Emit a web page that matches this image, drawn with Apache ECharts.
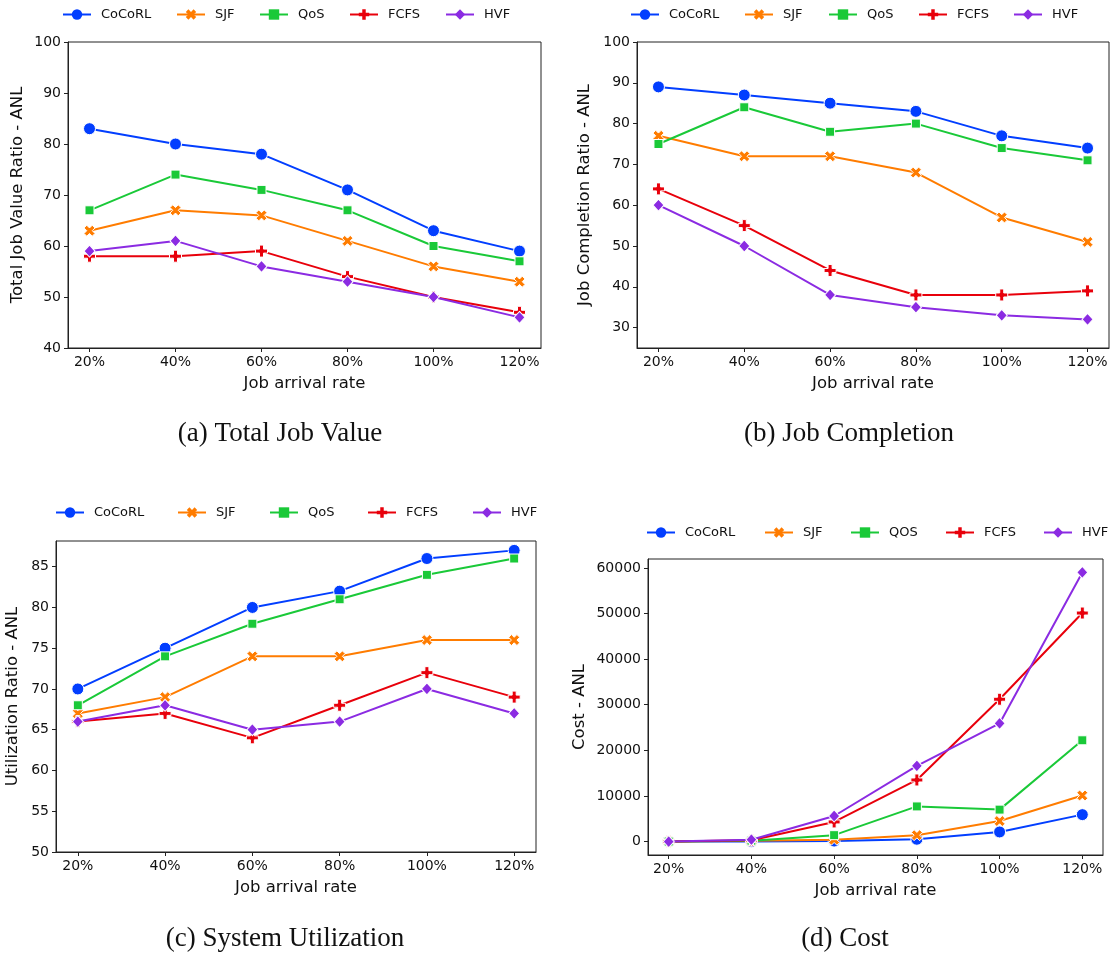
<!DOCTYPE html>
<html>
<head>
<meta charset="utf-8">
<title>ANL scheduling comparison</title>
<script src="https://cdn.jsdelivr.net/npm/echarts@6/dist/echarts.min.js"></script>
<style>
  html, body { margin: 0; padding: 0; background: #fff; }
  #chart { width: 1115px; height: 957px; }
</style>
</head>
<body>
<div id="chart"></div>
<script>
// Arrival-rate categories shared by all four panels
const arrivalRates = ['20%', '40%', '60%', '80%', '100%', '120%'];

// (a) Total job value ratio
const valueCoCoRL = [83, 80, 78, 71, 63, 59];
const valueSJF    = [63, 67, 66, 61, 56, 53];
const valueQoS    = [67, 74, 71, 67, 60, 57];
const valueFCFS   = [58, 58, 59, 54, 50, 47];
const valueHVF    = [59, 61, 56, 53, 50, 46];

// (b) Job completion ratio
const complCoCoRL = [89, 87, 85, 83, 77, 74];
const complSJF    = [77, 72, 72, 68, 57, 51];
const complQoS    = [75, 84, 78, 80, 74, 71];
const complFCFS   = [64, 55, 44, 38, 38, 39];
const complHVF    = [60, 50, 38, 35, 33, 32];

// (c) System utilization ratio
const utilCoCoRL = [70, 75, 80, 82, 86, 87];
const utilSJF    = [67, 69, 74, 74, 76, 76];
const utilQoS    = [68, 74, 78, 81, 84, 86];
const utilFCFS   = [66, 67, 64, 68, 72, 69];
const utilHVF    = [66, 68, 65, 66, 70, 67];

// (d) Cost
const costCoCoRL = [0, 0, 100, 500, 2100, 5900];
const costSJF    = [0, 200, 400, 1400, 4500, 10100];
const costQOS    = [0, 200, 1400, 7700, 7000, 22200];
const costFCFS   = [0, 300, 4300, 13500, 31200, 50100];
const costHVF    = [0, 400, 5600, 16600, 25900, 59000];

// Y tick labels per panel
const ticksValue = [40, 50, 60, 70, 80, 90, 100];
const ticksCompl = [30, 40, 50, 60, 70, 80, 90, 100];
const ticksUtil  = [50, 55, 60, 65, 70, 75, 80, 85];
const ticksCost  = [0, 10000, 20000, 30000, 40000, 50000, 60000];

const captions = ['(a) Total Job Value', '(b) Job Completion', '(c) System Utilization', '(d) Cost'];
const yTitles = ['Total Job Value Ratio - ANL', 'Job Completion Ratio - ANL', 'Utilization Ratio - ANL', 'Cost - ANL'];

// Marker shapes: filled X and filled plus
const X_PATH = 'path://M2,-4L4,-2L2,0L4,2L2,4L0,2L-2,4L-4,2L-2,0L-4,-2L-2,-4L0,-2Z';
const PLUS_PATH = 'path://M-1,-3H1V-1H3V1H1V3H-1V1H-3V-1H-1Z';

const methodStyle = {
  CoCoRL: { color: '#023eff', symbol: 'circle', size: 12 },
  SJF:    { color: '#ff7c00', symbol: X_PATH, size: 11 },
  QoS:    { color: '#1ac938', symbol: 'rect', size: 9 },
  QOS:    { color: '#1ac938', symbol: 'rect', size: 9 },
  FCFS:   { color: '#e8000b', symbol: PLUS_PATH, size: 12 },
  HVF:    { color: '#8b2be2', symbol: 'diamond', size: [11, 12] }
};

const panels = [
  { grid: { left: 68, top: 42, width: 473, height: 306 }, yMin: 40, yMax: 100, ticks: ticksValue, yGap: 42,
    series: [['CoCoRL', valueCoCoRL], ['SJF', valueSJF], ['QoS', valueQoS], ['FCFS', valueFCFS], ['HVF', valueHVF]],
    legendY: 15, legendX: [62, 176, 259, 349, 445], caption: [280, 434] },
  { grid: { left: 637, top: 42, width: 472, height: 306 }, yMin: 25, yMax: 100, ticks: ticksCompl, yGap: 44,
    series: [['CoCoRL', complCoCoRL], ['SJF', complSJF], ['QoS', complQoS], ['FCFS', complFCFS], ['HVF', complHVF]],
    legendY: 15, legendX: [630, 744, 828, 918, 1013], caption: [849, 434] },
  { grid: { left: 56, top: 541, width: 480, height: 311 }, yMin: 50, yMax: 88.15, ticks: ticksUtil, yGap: 35,
    series: [['CoCoRL', utilCoCoRL], ['SJF', utilSJF], ['QoS', utilQoS], ['FCFS', utilFCFS], ['HVF', utilHVF]],
    legendY: 513, legendX: [55, 177, 269, 367, 472], caption: [285, 939] },
  { grid: { left: 648, top: 559, width: 455, height: 296 }, yMin: -2950, yMax: 61950, ticks: ticksCost, yGap: 60,
    series: [['CoCoRL', costCoCoRL], ['SJF', costSJF], ['QOS', costQOS], ['FCFS', costFCFS], ['HVF', costHVF]],
    legendY: 533, legendX: [646, 764, 850, 945, 1043], caption: [845, 939] }
];

const FONT = 'DejaVu Sans';
const grids = [], xAxes = [], yAxes = [], series = [], legends = [], graphics = [];

panels.forEach((p, i) => {
  grids.push(Object.assign({ show: true, borderColor: '#222', borderWidth: 1, backgroundColor: 'transparent' }, p.grid));

  xAxes.push({
    type: 'value', gridIndex: i, min: -0.25, max: 5.25,
    name: 'Job arrival rate', nameLocation: 'middle', nameGap: 27,
    nameTextStyle: { fontFamily: FONT, fontSize: 16.5, color: '#111' },
    axisLine: { show: true, onZero: false, lineStyle: { color: '#222', width: 1 } },
    axisTick: { show: true, length: 4, lineStyle: { color: '#222' }, customValues: [0, 1, 2, 3, 4, 5] },
    axisLabel: { fontFamily: FONT, fontSize: 14, color: '#111', margin: 7,
      customValues: [0, 1, 2, 3, 4, 5], formatter: v => arrivalRates[Math.round(v)] },
    splitLine: { show: false }
  });

  yAxes.push({
    type: 'value', gridIndex: i, min: p.yMin, max: p.yMax,
    name: yTitles[i], nameLocation: 'middle', nameGap: p.yGap,
    nameTextStyle: { fontFamily: FONT, fontSize: 16.5, color: '#111' },
    axisLine: { show: true, onZero: false, lineStyle: { color: '#222', width: 1 } },
    axisTick: { show: true, length: 4, lineStyle: { color: '#222' }, customValues: p.ticks },
    axisLabel: { fontFamily: FONT, fontSize: 14, color: '#111', margin: 7, customValues: p.ticks,
      formatter: v => String(Math.round(v)) },
    splitLine: { show: false }
  });

  p.series.forEach(([name, values], k) => {
    const st = methodStyle[name];
    series.push({
      type: 'line', name: name, xAxisIndex: i, yAxisIndex: i,
      data: values.map((v, idx) => [idx, v]),
      symbol: st.symbol, symbolSize: st.size, showSymbol: true,
      lineStyle: { color: st.color, width: 2 },
      itemStyle: { color: st.color, borderColor: '#fff', borderWidth: 1 },
      emphasis: { disabled: true },
      z: 2 + k
    });
    legends.push({
      data: [name], left: p.legendX[k], top: p.legendY - 7, padding: 0,
      itemWidth: 28, itemHeight: 13, selectedMode: false,
      itemStyle: { borderWidth: 0 },
      lineStyle: { width: 2 },
      textStyle: { fontFamily: FONT, fontSize: 13, color: '#111', padding: [0, 0, 0, 5] }
    });
  });

  graphics.push({
    type: 'text', x: p.caption[0], y: p.caption[1],
    style: { text: captions[i], font: '27px "Liberation Serif"', fill: '#111',
      textAlign: 'center', textVerticalAlign: 'middle' }
  });
});

const chart = echarts.init(document.getElementById('chart'), null, { renderer: 'canvas' });
chart.setOption({
  animation: false,
  backgroundColor: '#fff',
  grid: grids,
  xAxis: xAxes,
  yAxis: yAxes,
  legend: legends,
  series: series,
  graphic: graphics
});
</script>
</body>
</html>
